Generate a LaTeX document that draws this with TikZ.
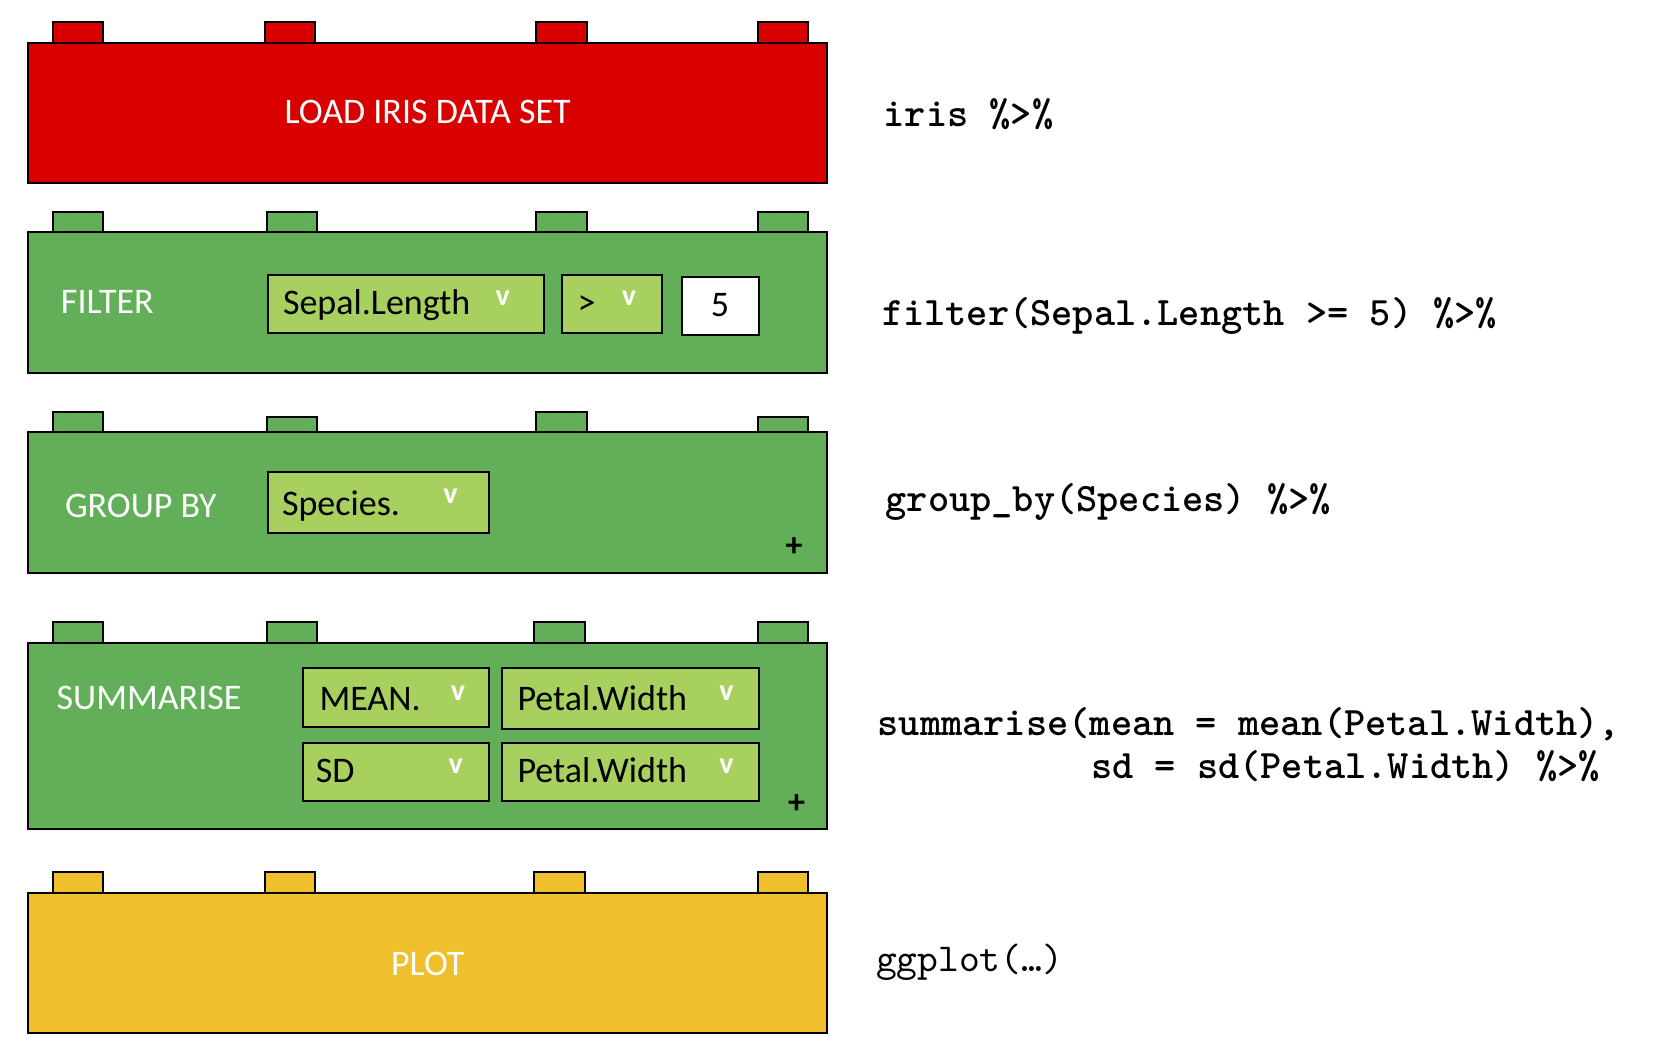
\documentclass[tikz,border=0pt]{standalone}
\usepackage{fontspec}
\setmainfont{Carlito}
\newfontfamily\codefont{lmmonolt10-bold.otf}
\newfontfamily\codeplainfont{lmmono10-regular.otf}
\definecolor{brickred}{HTML}{D90000}
\definecolor{brickgreen}{HTML}{63AE58}
\definecolor{ddgreen}{HTML}{A7D05E}
\definecolor{brickyellow}{HTML}{EFBF2D}
\begin{document}
\begin{tikzpicture}[x=0.5pt,y=-0.5pt,line width=1pt,
  redpart/.style={draw=black,fill=brickred},
  greenpart/.style={draw=black,fill=brickgreen},
  yellowpart/.style={draw=black,fill=brickyellow},
  ddpart/.style={draw=black,fill=ddgreen},
  whitepart/.style={draw=black,fill=white},
  lbl/.style={inner sep=0pt,text=white,font=\fontsize{18}{20}\selectfont},
  ddtext/.style={inner sep=0pt,anchor=base west,text=black,font=\fontsize{18}{20}\selectfont},
  vmark/.style={inner sep=0pt,text=white,font=\bfseries\fontsize{15}{16}\selectfont},
  plusmark/.style={inner sep=0pt,text=black,font=\bfseries\fontsize{17}{18}\selectfont},
  codetext/.style={inner sep=0pt,anchor=base west,font=\codefont\fontsize{20.2}{22}\selectfont},
  codeplain/.style={inner sep=0pt,anchor=base west,font=\codeplainfont\fontsize{19.8}{22}\selectfont}]
\path[use as bounding box] (0,0) rectangle (1662,1062);

% ---- Row 1: LOAD IRIS DATA SET
\foreach \a/\b in {52.5/102.8,264.5/314.8,536.4/586.7,758/808.4}
  \draw[redpart] (\a,22.3) rectangle (\b,42.7);
\draw[redpart] (28.4,42.7) rectangle (827,182.7);
\node[lbl,anchor=base] (load) at (427.7,123.3) {LOAD IRIS DATA SET};

% ---- Row 2: FILTER
\foreach \a/\b in {52.5/102.8,266.6/317,536.4/586.7,758/808.4}
  \draw[greenpart] (\a,212.3) rectangle (\b,232.3);
\draw[greenpart] (28.4,232.3) rectangle (827,372.7);
\node[lbl,anchor=base west] (filter) at (60,313.3) {FILTER};
\draw[ddpart] (268,274.7) rectangle (544,333.3);
\node[ddtext] (sepal) at (282,314) {Sepal.Length};
\node[vmark] (v1) at (502.7,298.5) {v};
\draw[ddpart] (562,274.7) rectangle (662,333.3);
\node[ddtext] (gt) at (576.5,314) {>};
\node[vmark] (v2) at (629,298.5) {v};
\draw[whitepart] (682,276.7) rectangle (758.6,335);
\node[ddtext,anchor=base] (five) at (720,316.7) {5};

% ---- Row 3: GROUP BY
\draw[greenpart] (52.5,412) rectangle (102.8,432);
\draw[greenpart] (266.6,416.7) rectangle (317,432);
\draw[greenpart] (536.4,412) rectangle (586.7,432);
\draw[greenpart] (758,416.7) rectangle (808.4,432);
\draw[greenpart] (28.4,432) rectangle (827,572.7);
\node[lbl,anchor=base west] (group) at (64,517.3) {GROUP BY};
\draw[ddpart] (268,472) rectangle (489,533);
\node[ddtext] (species) at (281,515) {Species.};
\node[vmark] (v3) at (450.5,496) {v};
\node[plusmark] (plus1) at (794,546.7) {+};

% ---- Row 4: SUMMARISE
\foreach \a/\b in {52.5/102.8,266.6/317,534.3/584.6,758/808.4}
  \draw[greenpart] (\a,622.3) rectangle (\b,642.7);
\draw[greenpart] (28.4,642.7) rectangle (827,829.3);
\node[lbl,anchor=base west] (summ) at (55.7,709.3) {SUMMARISE};
\draw[ddpart] (302.5,668) rectangle (489,727);
\node[ddtext] (mean) at (318.5,710) {MEAN.};
\node[vmark] (v4) at (458,693) {v};
\draw[ddpart] (502,668) rectangle (758.6,729);
\node[ddtext] (pw1) at (516.6,710) {Petal.Width};
\node[vmark] (v5) at (726.5,693) {v};
\draw[ddpart] (302.5,742.7) rectangle (489,801);
\node[ddtext] (sd) at (314.8,782.7) {SD};
\node[vmark] (v6) at (455.6,766) {v};
\draw[ddpart] (502,742.7) rectangle (758.6,801);
\node[ddtext] (pw2) at (516.6,782.7) {Petal.Width};
\node[vmark] (v7) at (726.5,766) {v};
\node[plusmark] (plus2) at (796.5,804) {+};

% ---- Row 5: PLOT
\foreach \a/\b in {52.5/102.8,264.5/314.8,534.3/584.6,758/808.4}
  \draw[yellowpart] (\a,872.3) rectangle (\b,892.7);
\draw[yellowpart] (28.4,892.7) rectangle (827,1032.7);
\node[lbl,anchor=base] (plot) at (427.7,975) {PLOT};

% ---- Code
\node[codetext] (c1) at (882.7,126.5) {iris \%>\%};
\node[codetext] (c2) at (881,325) {filter(Sepal.Length >= 5) \%>\%};
\node[codetext] (c3) at (884.6,511.7) {group\_by(Species) \%>\%};
\node[codetext] (c4) at (876.7,735) {summarise(mean = mean(Petal.Width),};
\node[codetext] (c5) at (1090,778.3) {sd = sd(Petal.Width) \%>\%};
\node[codeplain] (c6) at (875,971.7) {ggplot(…)};
\end{tikzpicture}
\end{document}
